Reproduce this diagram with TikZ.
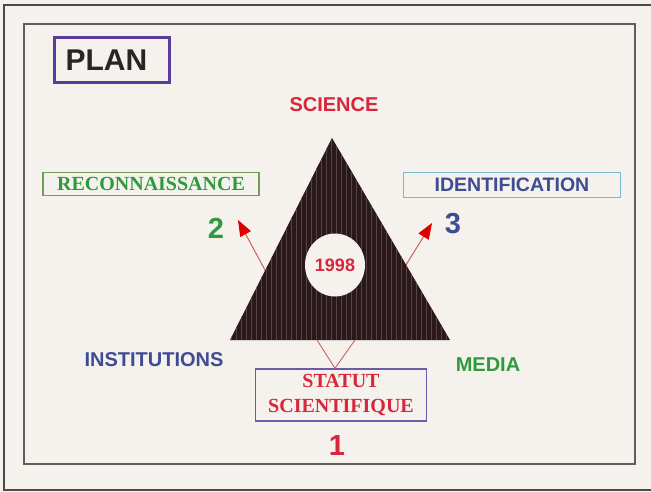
\documentclass[tikz,border=0pt]{standalone}
\usepackage{fontspec}
\setmainfont{Liberation Sans}
\newfontfamily\timesfont{Liberation Serif}
\usetikzlibrary{arrows.meta,shapes.geometric}

\definecolor{paper}{HTML}{F5F1EC}
\definecolor{framegray}{HTML}{5E5E5E}
\definecolor{planred}{HTML}{D8263A}
\definecolor{plangreen}{HTML}{2E9A3C}
\definecolor{planblue}{HTML}{3E4C94}
\definecolor{planpurple}{HTML}{5B3C9C}
\definecolor{boxblue}{HTML}{6A5CAA}
\definecolor{boxcyan}{HTML}{7DB9CC}
\definecolor{boxgreen}{HTML}{6E9C5C}
\definecolor{triblack}{HTML}{2A181B}
\definecolor{tristripe}{HTML}{54434A}
\definecolor{shaftred}{HTML}{C8645C}

\begin{document}
\begin{tikzpicture}[x=1pt,y=-1pt,
    word/.style={font=\bfseries\fontsize{20}{24}\selectfont,inner sep=0pt},
    digit/.style={font=\bfseries\fontsize{29}{30}\selectfont,inner sep=0pt},
    framebox/.style={draw,inner sep=0pt,minimum height=24pt},
    pointer/.style={draw=shaftred,line width=1pt,-{Triangle[length=16pt,width=12pt,color=red!88!black]}},
    vline/.style={draw=shaftred,line width=0.9pt}]
    % Page
    \useasboundingbox[fill=paper] (0,0) rectangle (651,492);
    \draw[framegray!80!black,line width=2.2pt] (651,5) -- (4,5) -- (4,490) -- (651,490);
    \draw[framegray,line width=1.5pt] (24,24) rectangle (635,464);

    % Title
    \node[framebox,draw=planpurple,line width=2.5pt,text width=93pt,inner xsep=11pt,
        minimum height=45pt,align=left,text=black!85,font=\bfseries\fontsize{30}{32}\selectfont] (plan) at (112,60) {PLAN};

    % Triangle
    \coordinate (apex) at (332,138);
    \coordinate (baseL) at (230,340);
    \coordinate (baseR) at (450,340);
    \coordinate (legL) at (317,340);
    \coordinate (legR) at (355,340);
    \coordinate (fromL) at (272,283);
    \coordinate (toL) at (238,220);
    \coordinate (fromR) at (401,273);
    \coordinate (toR) at (432,223);
    \draw[pointer] (fromL) -- (toL);
    \draw[pointer] (fromR) -- (toR);
    \fill[triblack] (apex) -- (baseR) -- (baseL) -- cycle;
    \begin{scope}
      \clip (apex) -- (baseR) -- (baseL) -- cycle;
      \foreach \x in {231,236,...,452}
        \draw[tristripe,line width=0.4pt] (\x,130) -- (\x,345);
    \end{scope}
    \node[ellipse,fill=paper,minimum width=60pt,minimum height=63pt,inner sep=0pt] (year) at (335,265) {};
    \node[word,text=planred,font=\bfseries\fontsize{18}{20}\selectfont] (yeartext) at (year) {1998};

    % Labels
    \node[word,text=planred] (science) at (334,105) {SCIENCE};
    \node[word,text=planblue] (institutions) at (154,360) {INSTITUTIONS};
    \node[word,text=plangreen] (media) at (488,365) {MEDIA};
    \node[framebox,draw=boxgreen,line width=1.2pt,minimum width=216pt,minimum height=23pt,
        text=plangreen,font=\timesfont\bfseries\fontsize{20}{24}\selectfont] (reco) at (151,184) {RECONNAISSANCE};
    \node[framebox,draw=boxcyan,line width=1.2pt,minimum width=217pt,minimum height=25pt,
        text=planblue,font=\bfseries\fontsize{19.5}{24}\selectfont] (ident) at (512,185) {IDENTIFICATION};
    \node[framebox,draw=boxblue,line width=1.4pt,minimum width=171pt,minimum height=52pt,align=center,
        text=planred,font=\timesfont\bfseries\fontsize{20}{25}\selectfont] (statut) at (341,395) {STATUT\\SCIENTIFIQUE};
    \draw[vline] (legL) -- (statut.north -| 335,0) -- (legR);

    % Numbers
    \node[digit,text=planred] (one) at (337,446) {1};
    \node[digit,text=plangreen] (two) at (216,228) {2};
    \node[digit,text=planblue] (three) at (453,224) {3};
\end{tikzpicture}
\end{document}
